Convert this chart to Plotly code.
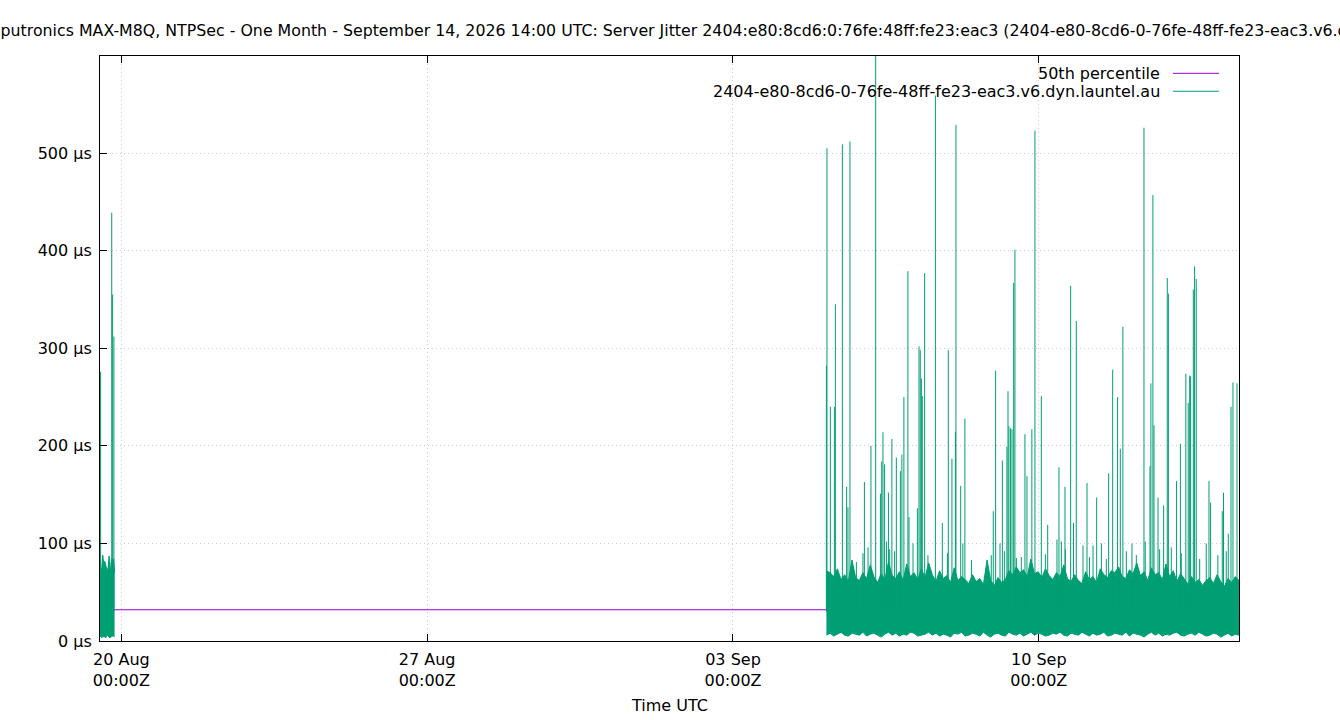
import pandas as pd
import plotly.graph_objects as go

# --- data (jitter in microseconds) ---
x_start = "2026-08-19 12:15"
x_end = "2026-09-14 14:00"
median_jitter = 32

# first short block of samples (19 Aug)
left_start = "2026-08-19 12:15"
left_end = "2026-08-19 20:15"
left_upper = [87, 70, 75, 88, 80, 82, 79, 74, 71, 76, 87, 80, 65, 84, 78, 84, 70]
left_lower = [4, 5, 3, 6, 4, 5, 3, 4, 6, 5, 4, 3, 5, 4, 6, 5, 4]

# main block of samples (5 Sep -> 14 Sep)
right_start = "2026-09-05 03:20"
right_end = "2026-09-14 14:00"
right_upper = [
    72, 70, 66, 74, 63, 68, 61, 83, 65, 62, 70, 64, 78, 66, 60, 69, 63, 81, 67, 64,
    71, 62, 79, 66, 70, 63, 74, 65, 80, 68, 61, 72, 64, 67, 60, 75, 62, 66, 63, 59,
    68, 61, 64, 58, 83, 62, 57, 65, 60, 63, 72, 68, 76, 70, 73, 66, 84, 69, 71, 65,
    74, 67, 63, 70, 66, 78, 64, 61, 68, 62, 59, 71, 63, 66, 60, 74, 68, 65, 72, 70,
    76, 66, 64, 73, 69, 80, 67, 71, 62, 75, 68, 70, 63, 79, 66, 72, 61, 69, 64, 58,
    66, 60, 63, 57, 62, 65, 59, 68, 61, 56, 64, 60, 66, 62,
]
right_lower = [
    6, 8, 5, 7, 9, 6, 5, 8, 7, 6, 9, 5, 7, 8, 6, 4, 7, 9, 6, 8,
    5, 7, 6, 9, 8, 5, 6, 7, 9, 6, 8, 5, 7, 6, 4, 8, 7, 9, 5, 6,
    8, 7, 5, 9, 6, 4, 7, 8, 6, 5, 9, 7, 6, 8, 5, 7, 9, 6, 8, 7,
    5, 6, 8, 7, 9, 6, 5, 8, 7, 6, 9, 7, 5, 8, 6, 7, 9, 5, 6, 8,
    7, 6, 9, 5, 8, 7, 6, 4, 7, 9, 6, 8, 5, 7, 6, 8, 9, 6, 5, 7,
    8, 6, 9, 7, 5, 6, 8, 7, 4, 6, 8, 5, 7, 6,
]

# isolated spikes above the band
spike_times = [
    "2026-08-19 12:36", "2026-08-19 18:42", "2026-08-19 19:12", "2026-08-19 19:54",
    "2026-09-05 03:18", "2026-09-05 03:38", "2026-09-05 05:30", "2026-09-05 07:42",
    "2026-09-05 08:15", "2026-09-05 12:06", "2026-09-05 14:27", "2026-09-05 15:10",
    "2026-09-05 16:16", "2026-09-05 19:48", "2026-09-06 00:12", "2026-09-06 03:48",
    "2026-09-06 06:24", "2026-09-06 09:00", "2026-09-06 09:42", "2026-09-06 10:24",
    "2026-09-06 11:18", "2026-09-06 13:24", "2026-09-06 15:18", "2026-09-06 17:45",
    "2026-09-06 19:57", "2026-09-06 20:48", "2026-09-06 21:54", "2026-09-07 00:06",
    "2026-09-07 00:42", "2026-09-07 05:18", "2026-09-07 06:12", "2026-09-07 06:54",
    "2026-09-07 07:30", "2026-09-07 08:00", "2026-09-07 09:18", "2026-09-07 15:12",
    "2026-09-07 19:00", "2026-09-07 22:18", "2026-09-08 00:18", "2026-09-08 02:12",
    "2026-09-08 02:30", "2026-09-08 05:06", "2026-09-08 07:24", "2026-09-08 23:00",
    "2026-09-09 00:18", "2026-09-09 02:42", "2026-09-09 04:00", "2026-09-09 05:06",
    "2026-09-09 06:30", "2026-09-09 07:06", "2026-09-09 07:36", "2026-09-09 08:30",
    "2026-09-09 09:18", "2026-09-09 10:12", "2026-09-09 10:54", "2026-09-09 16:24",
    "2026-09-09 17:30", "2026-09-09 20:12", "2026-09-09 21:54", "2026-09-10 01:24",
    "2026-09-10 04:54", "2026-09-10 11:06", "2026-09-10 14:24", "2026-09-10 17:30",
    "2026-09-10 19:06", "2026-09-10 20:36", "2026-09-11 02:30", "2026-09-11 05:48",
    "2026-09-11 07:48", "2026-09-11 14:24", "2026-09-11 16:36", "2026-09-11 19:18",
    "2026-09-11 20:48", "2026-09-11 22:12", "2026-09-12 03:12", "2026-09-12 09:48",
    "2026-09-12 10:30", "2026-09-12 13:06", "2026-09-12 13:36", "2026-09-12 14:42",
    "2026-09-12 15:18", "2026-09-12 17:30", "2026-09-12 20:36", "2026-09-12 22:36",
    "2026-09-12 23:12", "2026-09-13 03:42", "2026-09-13 05:48", "2026-09-13 08:48",
    "2026-09-13 10:06", "2026-09-13 10:54", "2026-09-13 11:24", "2026-09-13 12:54",
    "2026-09-13 13:36", "2026-09-13 14:30", "2026-09-13 21:30", "2026-09-13 22:24",
    "2026-09-14 04:48", "2026-09-14 05:30", "2026-09-14 08:06", "2026-09-14 09:36",
    "2026-09-14 10:42", "2026-09-14 12:54",
]
spike_peaks = [
    276, 439, 355, 312,
    282, 505, 240, 240, 345, 509, 158, 137, 512, 81, 163, 200,
    680, 151, 184, 214, 181, 152, 207, 188, 174, 191, 250, 379,
    127, 136, 302, 298, 269, 251, 377, 559, 121, 298, 187, 214,
    529, 159, 228, 133, 277, 100, 185, 92, 199, 256, 220, 218,
    217, 367, 401, 212, 169, 217, 523, 251, 119, 178, 158, 364,
    121, 328, 162, 98, 147, 172, 278, 250, 197, 322, 100, 526,
    102, 179, 264, 457, 221, 147, 139, 372, 356, 164, 202, 274,
    244, 272, 271, 360, 384, 371, 164, 142, 133, 152, 110, 240,
    265, 264,
]

# smaller spikes just above the band
small_spike_times = [
    "2026-09-05 23:24", "2026-09-06 02:12", "2026-09-06 12:18", "2026-09-06 14:06",
    "2026-09-06 16:48", "2026-09-07 02:54", "2026-09-07 11:06", "2026-09-07 21:48",
    "2026-09-08 06:18", "2026-09-08 11:00", "2026-09-08 21:54", "2026-09-09 11:42",
    "2026-09-09 14:24", "2026-09-10 03:36", "2026-09-10 10:00", "2026-09-10 12:24",
    "2026-09-10 14:36", "2026-09-11 00:18", "2026-09-11 03:54", "2026-09-11 10:24",
    "2026-09-11 13:06", "2026-09-12 00:06", "2026-09-12 05:36", "2026-09-12 18:24",
    "2026-09-13 00:48", "2026-09-13 06:18", "2026-09-13 16:24", "2026-09-13 20:00",
    "2026-09-14 02:24", "2026-09-14 07:00",
]
small_spike_peaks = [
    90, 96, 102, 94, 92, 100, 88, 90, 100, 83, 88, 85, 86, 89, 104,
    102, 94, 98, 86, 100, 84, 92, 88, 94, 96, 90, 84, 100, 88, 92,
]
spike_base = 30

x_ticks = ["2026-08-20", "2026-08-27", "2026-09-03", "2026-09-10"]
y_ticks = [0, 100, 200, 300, 400, 500]
y_tick_labels = [f"{v} µs" for v in y_ticks]

title_text = ("Uputronics MAX-M8Q, NTPSec - One Month - September 14, 2026 14:00 UTC: "
              "Server Jitter 2404:e80:8cd6:0:76fe:48ff:fe23:eac3 "
              "(2404-e80-8cd6-0-76fe-48ff-fe23-eac3.v6.dyn.launtel.au)")
host_name = "2404-e80-8cd6-0-76fe-48ff-fe23-eac3.v6.dyn.launtel.au"

PURPLE = "#9400d3"
GREEN = "#009e73"
FONT = "DejaVu Sans"
GRID = "#cccccc"

left_times = pd.date_range(left_start, left_end, periods=len(left_upper))
right_times = pd.date_range(right_start, right_end, periods=len(right_upper))

spike_x, spike_y = [], []
for t, p in zip(spike_times + small_spike_times, spike_peaks + small_spike_peaks):
    spike_x += [t, t, None]
    spike_y += [spike_base, p, None]

fig = go.Figure()

fig.add_trace(go.Scatter(
    x=[x_start, x_end], y=[median_jitter, median_jitter],
    mode="lines", line=dict(color=PURPLE, width=1.2), showlegend=False
))

for times, lower, upper in [(left_times, left_lower, left_upper),
                            (right_times, right_lower, right_upper)]:
    fig.add_trace(go.Scatter(
        x=times, y=lower, mode="lines",
        line=dict(color=GREEN, width=1), showlegend=False
    ))
    fig.add_trace(go.Scatter(
        x=times, y=upper, mode="lines", fill="tonexty", fillcolor=GREEN,
        line=dict(color=GREEN, width=1), showlegend=False
    ))

fig.add_trace(go.Scatter(
    x=spike_x, y=spike_y, mode="lines",
    line=dict(color=GREEN, width=1), showlegend=False
))

# gnuplot style key: text first, line sample on the right
key_rows = [("50th percentile", PURPLE, 0.9704), (host_name, GREEN, 0.9397)]
for label, color, ky in key_rows:
    fig.add_annotation(
        x=0.9324, y=ky, xref="paper", yref="paper", text=label,
        showarrow=False, xanchor="right", yanchor="middle",
        font=dict(family=FONT, size=16, color="black")
    )
    fig.add_shape(
        type="line", xref="paper", yref="paper",
        x0=0.942, x1=0.9824, y0=ky, y1=ky,
        line=dict(color=color, width=1)
    )

# the title is wider than the page, so it runs off both edges
fig.add_annotation(
    x=-0.0992, y=1.0444, xref="paper", yref="paper", text=title_text,
    showarrow=False, xanchor="left", yanchor="middle",
    font=dict(family=FONT, size=15.8, color="black")
)
fig.add_annotation(
    x=0.5, y=-0.111, xref="paper", yref="paper", text="Time UTC",
    showarrow=False, xanchor="center", yanchor="middle",
    font=dict(family=FONT, size=16, color="black")
)

fig.update_layout(
    width=1340, height=720,
    margin=dict(l=100, r=101, t=56, b=79),
    paper_bgcolor="white", plot_bgcolor="white",
    font=dict(family=FONT, size=16, color="black"),
    showlegend=False,
)

fig.update_xaxes(
    range=[x_start, x_end], type="date",
    tickvals=x_ticks, tickformat="%d %b<br>%H:%MZ",
    ticks="inside", ticklen=7, tickcolor="black", ticklabelstandoff=4,
    showline=True, linecolor="black", linewidth=1, mirror="ticks",
    showgrid=True, gridcolor=GRID, griddash="1px,3px", gridwidth=1,
    zeroline=False,
)
fig.update_yaxes(
    range=[0, 599.5], tickvals=y_ticks, ticktext=y_tick_labels,
    ticks="inside", ticklen=7, tickcolor="black", ticklabelstandoff=4,
    showline=True, linecolor="black", linewidth=1, mirror=True,
    showgrid=True, gridcolor=GRID, griddash="1px,3px", gridwidth=1,
    zeroline=False,
)

# the page's default 8px body margin would shift the whole chart
fig.write_html(
    "out.html",
    config={"displayModeBar": False},
    post_script="document.body.style.margin = '0';",
)
